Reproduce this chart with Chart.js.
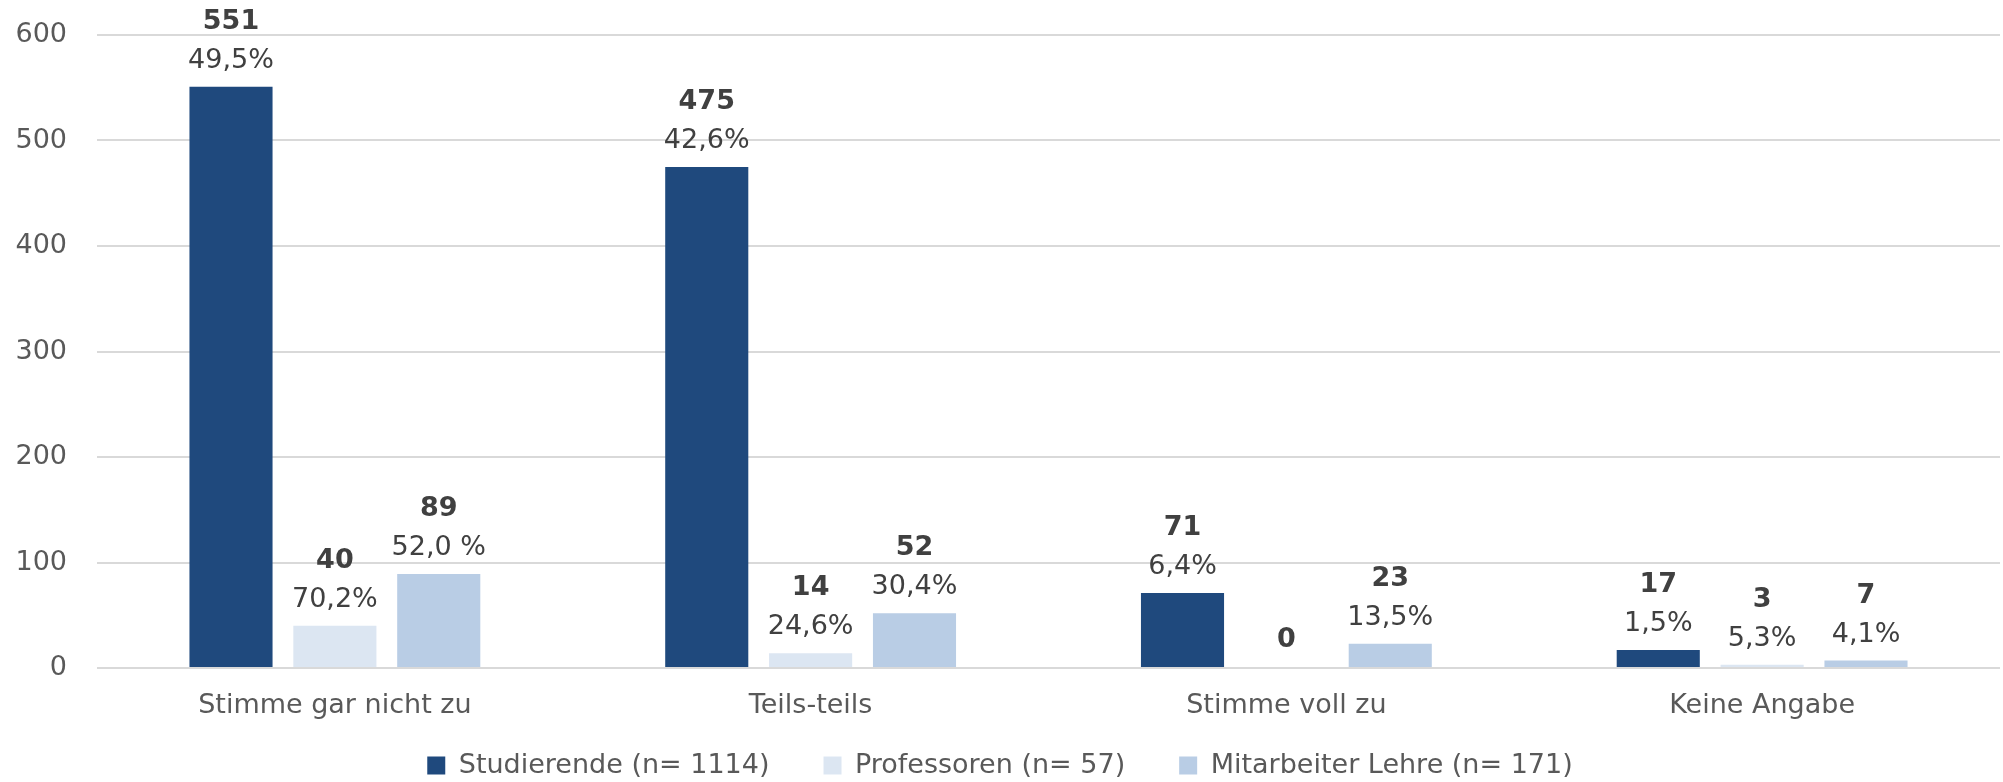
<!DOCTYPE html>
<html>
<head>
<meta charset="utf-8">
<script src="https://cdn.jsdelivr.net/npm/chart.js@4/dist/chart.umd.min.js"></script>
<style>
  body { margin: 0; background: #ffffff; }
  canvas { display: block; }
</style>
</head>
<body>
<canvas id="myChart" width="2003" height="782"></canvas>
<script>
// Daten
const categories = ["Stimme gar nicht zu", "Teils-teils", "Stimme voll zu", "Keine Angabe"];
const seriesNames = ["Studierende (n= 1114)", "Professoren (n= 57)", "Mitarbeiter Lehre (n= 171)"];
const studierende = [551, 475, 71, 17];
const professoren = [40, 14, 0, 3];
const mitarbeiter = [89, 52, 23, 7];
const studierendeProzent = ["49,5%", "42,6%", "6,4%", "1,5%"];
const professorenProzent = ["70,2%", "24,6%", "", "5,3%"];
const mitarbeiterProzent = ["52,0 %", "30,4%", "13,5%", "4,1%"];
const yTicks = [0, 100, 200, 300, 400, 500, 600];

const prozente = [studierendeProzent, professorenProzent, mitarbeiterProzent];
const farben = ["#1F497D", "#DCE6F2", "#B9CDE5"];
const schrift = "'DejaVu Sans', sans-serif";

// Beschriftung ueber den Balken
const barLabels = {
  id: "barLabels",
  afterDatasetsDraw(chart) {
    const ctx = chart.ctx;
    ctx.save();
    ctx.fillStyle = "#404040";
    ctx.textAlign = "center";
    ctx.textBaseline = "middle";
    chart.data.datasets.forEach(function (ds, i) {
      const meta = chart.getDatasetMeta(i);
      meta.data.forEach(function (bar, j) {
        const pct = prozente[i][j];
        ctx.font = "bold 27px " + schrift;
        if (pct) {
          ctx.fillText(String(ds.data[j]), bar.x, bar.y - 65);
          ctx.font = "27px " + schrift;
          ctx.fillText(pct, bar.x, bar.y - 26);
        } else {
          ctx.fillText(String(ds.data[j]), bar.x, bar.y - 28);
        }
      });
    });
    ctx.restore();
  }
};

const data = {
  labels: categories,
  datasets: [
    { label: seriesNames[0], data: studierende, backgroundColor: farben[0] },
    { label: seriesNames[1], data: professoren, backgroundColor: farben[1] },
    { label: seriesNames[2], data: mitarbeiter, backgroundColor: farben[2] }
  ]
};

const config = {
  type: "bar",
  data: data,
  options: {
    responsive: false,
    animation: false,
    devicePixelRatio: 1,
    datasets: {
      bar: { barPercentage: 0.8, categoryPercentage: 0.655 }
    },
    layout: {
      padding: { top: 35, right: 3, left: 0, bottom: -7 }
    },
    plugins: {
      tooltip: { enabled: false },
      legend: {
        position: "bottom",
        labels: {
          boxWidth: 18,
          boxHeight: 18,
          padding: 54,
          color: "#595959",
          font: { family: schrift, size: 27 }
        }
      }
    },
    scales: {
      x: {
        grid: { display: false, drawTicks: false },
        border: { display: false },
        ticks: {
          color: "#595959",
          padding: 22,
          font: { family: schrift, size: 27 }
        },
        afterFit: function (scale) {
          // Achse schmal halten, Beschriftung darf in den Legendenbereich ragen
          scale.height = 30;
          scale._computeLabelArea = function () { return null; };
        }
      },
      y: {
        min: 0,
        max: 600,
        afterBuildTicks: function (scale) {
          scale.ticks = yTicks.map(function (v) { return { value: v }; });
        },
        grid: { color: "#D9D9D9", lineWidth: 2, drawTicks: false },
        border: { display: false },
        ticks: {
          color: "#595959",
          padding: 30,
          font: { family: schrift, size: 27 }
        },
        afterFit: function (scale) {
          scale.width = 97;
          scale.paddingTop = 0;
          scale.paddingBottom = 0;
        }
      }
    }
  },
  plugins: [barLabels]
};

const myChart = new Chart(document.getElementById("myChart"), config);
</script>
</body>
</html>
